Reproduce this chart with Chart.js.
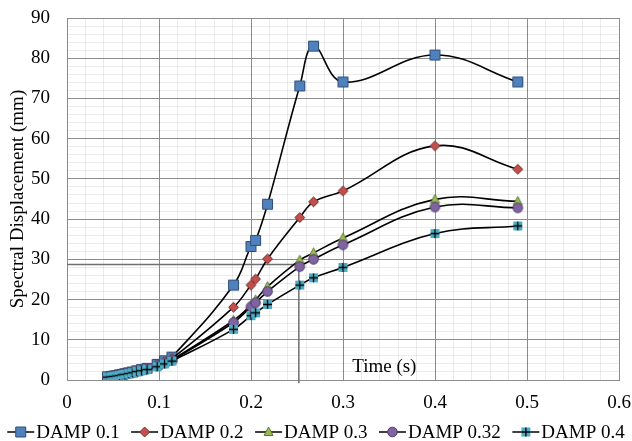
<!DOCTYPE html>
<html>
<head>
<meta charset="utf-8">
<script src="https://cdn.jsdelivr.net/npm/chart.js@4/dist/chart.umd.min.js"></script>
<style>
  html, body { margin: 0; padding: 0; background: #fff; }
  #wrap { width: 632px; height: 441px; }
</style>
</head>
<body>
<div id="wrap"><canvas id="chart" width="632" height="441"></canvas></div>
<script>
// Periods (s) shared by every damping series
const periods = [0.044, 0.048, 0.051, 0.054, 0.057, 0.060, 0.063, 0.067, 0.071, 0.076, 0.081, 0.087,
                 0.098, 0.106, 0.114, 0.181, 0.200, 0.205, 0.218, 0.253, 0.268, 0.300, 0.400, 0.490];

// Spectral displacement (mm) per damping ratio
const damp01  = [0.8, 0.9, 1.0, 1.1, 1.3, 1.4, 1.6, 1.8, 2.0, 2.3, 2.6, 2.9, 3.9, 4.8, 5.7, 23.6, 33.2, 34.7, 43.7, 73.1, 83.0, 74.1, 80.8, 74.1];
const damp02  = [0.8, 0.9, 1.0, 1.1, 1.2, 1.4, 1.6, 1.8, 2.0, 2.3, 2.5, 2.8, 3.7, 4.5, 5.3, 18.1, 23.6, 25.1, 30.1, 40.4, 44.3, 47.0, 58.2, 52.4];
const damp03  = [0.7, 0.8, 0.9, 1.0, 1.2, 1.3, 1.5, 1.7, 1.9, 2.2, 2.4, 2.7, 3.5, 4.2, 5.0, 14.8, 18.6, 19.9, 23.2, 29.8, 31.6, 35.3, 44.9, 44.4];
const damp032 = [0.7, 0.8, 0.9, 1.0, 1.2, 1.3, 1.5, 1.7, 1.9, 2.1, 2.4, 2.7, 3.5, 4.2, 4.9, 14.3, 18.2, 19.2, 22.0, 28.2, 30.0, 33.6, 43.0, 42.8];
const damp04  = [0.7, 0.8, 0.9, 1.0, 1.1, 1.3, 1.4, 1.6, 1.8, 2.1, 2.3, 2.6, 3.3, 4.0, 4.7, 12.6, 16.0, 16.7, 18.8, 23.6, 25.4, 28.0, 36.4, 38.3];

const seriesLabels = ['DAMP 0.1', 'DAMP 0.2', 'DAMP 0.3', 'DAMP 0.32', 'DAMP 0.4'];

// Guide lines drawn on the plot (read-off at ~0.25 s)
const guideX = [0, 0.252, 0.252];
const guideY = [28.7, 28.7, -0.8];

const FONT = 'Liberation Serif, "Times New Roman", serif';

// marker drawing
function drawMarker(ctx, kind, cx, cy) {
    ctx.lineWidth = 1;
    ctx.beginPath();
    if (kind === 'square') {
        ctx.fillStyle = '#4F81BD'; ctx.strokeStyle = '#2f4f78';
        ctx.rect(cx - 5, cy - 5, 10, 10);
        ctx.fill(); ctx.stroke();
    } else if (kind === 'diamond') {
        ctx.fillStyle = '#C0504D'; ctx.strokeStyle = '#7a2f2d';
        ctx.moveTo(cx, cy - 5); ctx.lineTo(cx + 5, cy); ctx.lineTo(cx, cy + 5); ctx.lineTo(cx - 5, cy);
        ctx.closePath(); ctx.fill(); ctx.stroke();
    } else if (kind === 'triangle') {
        ctx.fillStyle = '#9BBB59'; ctx.strokeStyle = '#5f7a2f';
        ctx.moveTo(cx, cy - 5); ctx.lineTo(cx + 4.5, cy + 3.5); ctx.lineTo(cx - 4.5, cy + 3.5);
        ctx.closePath(); ctx.fill(); ctx.stroke();
    } else if (kind === 'circle') {
        ctx.fillStyle = '#8064A2'; ctx.strokeStyle = '#4e3a68';
        ctx.arc(cx, cy, 4.8, 0, Math.PI * 2);
        ctx.fill(); ctx.stroke();
    } else if (kind === 'plus') {
        ctx.fillStyle = '#4BACC6';
        ctx.fillRect(cx - 4.5, cy - 4.5, 9, 9);
        ctx.strokeStyle = '#000'; ctx.lineWidth = 1.3;
        ctx.moveTo(cx - 4.5, cy); ctx.lineTo(cx + 4.5, cy);
        ctx.moveTo(cx, cy - 4.5); ctx.lineTo(cx, cy + 4.5);
        ctx.stroke();
    }
}

function makeMarker(kind) {
    const c = document.createElement('canvas');
    c.width = 13; c.height = 13;
    drawMarker(c.getContext('2d'), kind, 6.5, 6.5);
    return c;
}

const kinds = ['square', 'diamond', 'triangle', 'circle', 'plus'];
const allValues = [damp01, damp02, damp03, damp032, damp04];

const datasets = allValues.map((vals, i) => ({
    label: seriesLabels[i],
    data: periods.map((p, j) => ({ x: p, y: vals[j] })),
    borderColor: '#000',
    borderWidth: 1.6,
    tension: 0.4,
    pointStyle: makeMarker(kinds[i]),
    order: 4 - i
}));

datasets.push({
    label: 'guide',
    data: guideX.map((x, j) => ({ x: x, y: guideY[j] })),
    borderColor: '#707070',
    borderWidth: 1.5,
    pointRadius: 0,
    tension: 0,
    clip: false,
    order: 10
});

function isMajor(v, step) {
    const r = v / step;
    return Math.abs(r - Math.round(r)) < 1e-6;
}

const MAJOR = '#8c8c8c';
const MINOR = 'rgba(0,0,0,0.08)';

// axis title sitting inside the plot, and the Excel-style legend row
const extras = {
    id: 'extras',
    afterDatasetsDraw(chart) {
        const { ctx, scales } = chart;
        ctx.save();
        ctx.font = '19px ' + FONT;
        ctx.fillStyle = '#000';
        ctx.textAlign = 'left';
        ctx.textBaseline = 'middle';
        ctx.fillText('Time (s)', scales.x.getPixelForValue(0.310), scales.y.getPixelForValue(3.2));
        ctx.restore();
    },
    afterDraw(chart) {
        const ctx = chart.ctx;
        const iconW = 27, gapText = 2, gapItem = 11.5;
        const y = chart.height - 9;
        ctx.save();
        ctx.font = '19px ' + FONT;
        const widths = seriesLabels.map(t => ctx.measureText(t).width);
        const total = widths.reduce((a, w) => a + iconW + gapText + w, 0) + gapItem * (seriesLabels.length - 1);
        let x = (chart.width - total) / 2;
        seriesLabels.forEach((t, i) => {
            ctx.strokeStyle = '#000'; ctx.lineWidth = 1.5;
            ctx.beginPath(); ctx.moveTo(x, y); ctx.lineTo(x + iconW, y); ctx.stroke();
            drawMarker(ctx, kinds[i], x + iconW / 2, y);
            ctx.fillStyle = '#000';
            ctx.textAlign = 'left';
            ctx.textBaseline = 'middle';
            ctx.fillText(t, x + iconW + gapText, y + 1);
            x += iconW + gapText + widths[i] + gapItem;
        });
        ctx.restore();
    }
};

new Chart(document.getElementById('chart'), {
    type: 'line',
    data: { datasets: datasets },
    plugins: [extras],
    options: {
        responsive: false,
        animation: false,
        layout: { padding: { top: 18, right: 13, left: 0, bottom: 29 } },
        plugins: {
            tooltip: { enabled: false },
            legend: { display: false }
        },
        scales: {
            x: {
                type: 'linear',
                min: 0, max: 0.6,
                border: { color: MAJOR, width: 1 },
                grid: {
                    drawTicks: false,
                    color: (c) => (c.tick && isMajor(c.tick.value, 0.1)) ? MAJOR : MINOR
                },
                ticks: {
                    stepSize: 0.02,
                    maxTicksLimit: 100,
                    autoSkip: false,
                    maxRotation: 0,
                    padding: 14,
                    color: '#000',
                    font: { family: FONT, size: 19, lineHeight: 1 },
                    callback: (v) => isMajor(v, 0.1) ? String(Math.round(v * 10) / 10) : ''
                },
                afterFit(scale) {
                    scale.height = 32;
                    scale.paddingLeft = 0;
                    scale.paddingRight = 0;
                }
            },
            y: {
                type: 'linear',
                min: 0, max: 90,
                border: { color: MAJOR, width: 1 },
                grid: {
                    drawTicks: false,
                    color: (c) => (c.tick && isMajor(c.tick.value, 10)) ? MAJOR : MINOR
                },
                ticks: {
                    stepSize: 2,
                    maxTicksLimit: 100,
                    autoSkip: false,
                    padding: 17,
                    color: '#000',
                    font: { family: FONT, size: 19 },
                    callback: (v) => isMajor(v, 10) ? String(v) : ''
                },
                title: {
                    display: true,
                    text: 'Spectral Displacement (mm)',
                    color: '#000',
                    font: { family: FONT, size: 19 },
                    padding: { top: 7, bottom: 0 }
                },
                afterFit(scale) {
                    scale.width = 67;
                    scale.paddingTop = 0;
                    scale.paddingBottom = 0;
                }
            }
        }
    }
});
</script>
</body>
</html>
